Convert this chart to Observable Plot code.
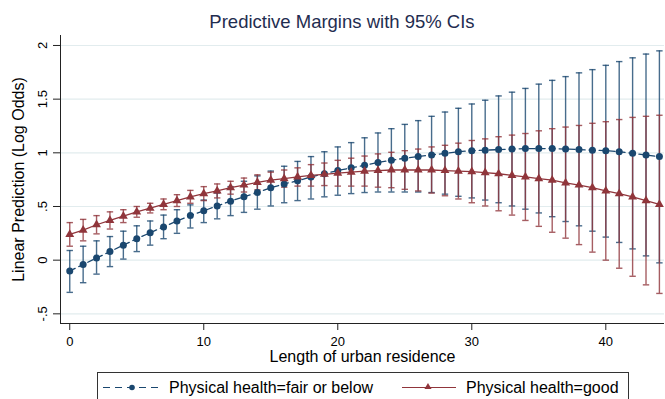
<!DOCTYPE html>
<html><head><meta charset="utf-8">
<script src="https://cdn.jsdelivr.net/npm/d3@7"></script>
<script src="https://cdn.jsdelivr.net/npm/@observablehq/plot@0.6"></script>
<style>
body{margin:0;background:#fff;font-family:"Liberation Sans",Arial,sans-serif;}
#wrap{position:relative;width:665px;height:399px;overflow:hidden;background:#fff;}
#title{position:absolute;left:0;width:684px;top:13px;font-size:18.5px;line-height:18px;text-align:center;color:#1f2d50;white-space:nowrap;}
#chart{position:absolute;left:0;top:35px;}
#legend{position:absolute;left:0;top:362px;}
</style></head><body>
<div id="wrap"><div id="title">Predictive Margins with 95% CIs</div><div id="chart"></div><div id="legend"></div></div>
<script>
const years = [0,1,2,3,4,5,6,7,8,9,10,11,12,13,14,15,16,17,18,19,20,21,22,23,24,25,26,27,28,29,30,31,32,33,34,35,36,37,38,39,40,41,42,43,44];

const fairEst = [-0.10,-0.04,0.02,0.08,0.14,0.20,0.255,0.31,0.365,0.415,0.46,0.505,0.55,0.59,0.63,0.675,0.71,0.74,0.775,0.805,0.835,0.86,0.885,0.91,0.93,0.95,0.965,0.98,0.995,1.01,1.02,1.025,1.03,1.035,1.04,1.04,1.04,1.035,1.03,1.025,1.02,1.01,0.995,0.98,0.965];
const fairLo = [-0.30,-0.21,-0.13,-0.06,0.01,0.08,0.14,0.20,0.25,0.30,0.35,0.385,0.415,0.445,0.475,0.505,0.535,0.555,0.57,0.59,0.605,0.62,0.63,0.635,0.635,0.635,0.635,0.63,0.615,0.595,0.58,0.56,0.535,0.505,0.475,0.44,0.405,0.36,0.32,0.27,0.215,0.165,0.105,0.04,-0.025];
const fairHi = [0.09,0.13,0.18,0.22,0.27,0.32,0.365,0.42,0.47,0.515,0.56,0.625,0.685,0.735,0.785,0.83,0.875,0.92,0.965,1.01,1.055,1.095,1.14,1.185,1.225,1.265,1.30,1.34,1.38,1.415,1.455,1.49,1.53,1.565,1.60,1.64,1.675,1.71,1.745,1.775,1.815,1.85,1.885,1.92,1.95];

const goodEst = [0.24,0.28,0.33,0.37,0.41,0.45,0.485,0.52,0.555,0.59,0.62,0.645,0.675,0.70,0.725,0.745,0.76,0.775,0.79,0.80,0.81,0.82,0.83,0.835,0.84,0.84,0.84,0.84,0.835,0.83,0.825,0.815,0.805,0.79,0.775,0.76,0.745,0.72,0.70,0.675,0.645,0.62,0.59,0.555,0.52];
const goodLo = [0.13,0.18,0.245,0.29,0.35,0.40,0.44,0.47,0.50,0.53,0.555,0.58,0.615,0.635,0.655,0.67,0.68,0.69,0.69,0.695,0.69,0.69,0.69,0.68,0.675,0.66,0.645,0.625,0.60,0.57,0.535,0.505,0.46,0.42,0.37,0.315,0.26,0.205,0.145,0.075,0.0,-0.075,-0.15,-0.23,-0.31];
const goodHi = [0.35,0.38,0.415,0.45,0.47,0.50,0.53,0.57,0.61,0.65,0.685,0.71,0.735,0.765,0.795,0.82,0.84,0.86,0.89,0.905,0.93,0.95,0.97,0.99,1.005,1.02,1.035,1.055,1.07,1.09,1.115,1.13,1.15,1.165,1.18,1.205,1.225,1.24,1.255,1.275,1.29,1.31,1.33,1.34,1.35];

const yTicks = [-0.5, 0, 0.5, 1, 1.5, 2];
const yTickLabels = ["-.5", "0", ".5", "1", "1.5", "2"];
const xTicks = [0, 10, 20, 30, 40];
const seriesNames = ["Physical health=fair or below", "Physical health=good"];
const xTitle = "Length of urban residence";
const yTitle = "Linear Prediction (Log Odds)";

const xDomain = [-0.69, 44.38];
const yDomain = [-0.59, 2.093];
const BLUE = "#1a476f", RED = "#90353b", AXIS = "#222";

const fair = years.map((x, i) => ({x, est: fairEst[i], lo: fairLo[i], hi: fairHi[i]}));
const good = years.map((x, i) => ({x, est: goodEst[i], lo: goodLo[i], hi: goodHi[i]}));

const cap = {draw(ctx, size) { const w = Math.sqrt(size / Math.PI); ctx.moveTo(-w, 0); ctx.lineTo(w, 0); }};

function ci(data, color) {
  return [
    Plot.ruleX(data, {x: "x", y1: "lo", y2: "hi", stroke: color, strokeWidth: 1.4, strokeOpacity: 0.8}),
    Plot.dot(data, {x: "x", y: "lo", symbol: cap, r: 3.2, fill: "none", stroke: color, strokeWidth: 1.4, strokeOpacity: 0.8}),
    Plot.dot(data, {x: "x", y: "hi", symbol: cap, r: 3.2, fill: "none", stroke: color, strokeWidth: 1.4, strokeOpacity: 0.8})
  ];
}

const chart = Plot.plot({
  width: 665, height: 327,
  marginLeft: 60, marginRight: 1, marginTop: 0, marginBottom: 39,
  x: {domain: xDomain},
  y: {domain: yDomain},
  style: {fontFamily: "'Liberation Sans', Arial, sans-serif", background: "transparent", color: "#000", overflow: "visible"},
  marks: [
    Plot.ruleY(yTicks, {stroke: "#e2ecee", strokeWidth: 1.2}),
    Plot.ruleX([xDomain[0]], {stroke: AXIS, strokeWidth: 1}),
    Plot.ruleY([yDomain[0]], {stroke: AXIS, strokeWidth: 1}),
    Plot.axisY({ticks: yTicks, tickSize: 7, tickFormat: () => "", stroke: AXIS, label: null}),
    Plot.text(yTicks, {y: d => d, text: (d, i) => yTickLabels[i], frameAnchor: "left", textAnchor: "middle", lineAnchor: "middle", dx: -18, rotate: -90, fontSize: 13, fill: "#000"}),
    Plot.axisX({ticks: xTicks, tickSize: 7, tickPadding: 6, fontSize: 13, stroke: AXIS, label: null}),
    Plot.text([xTitle], {frameAnchor: "bottom", textAnchor: "middle", lineAnchor: "middle", dy: 33, fontSize: 16, fill: "#000"}),
    Plot.text([yTitle], {frameAnchor: "left", textAnchor: "middle", lineAnchor: "middle", dx: -42, rotate: -90, fontSize: 16, fill: "#000"}),
    ...ci(fair, BLUE),
    ...ci(good, RED),
    Plot.line(fair, {x: "x", y: "est", stroke: BLUE, strokeWidth: 1.3, strokeDasharray: "6,4"}),
    Plot.dot(fair, {x: "x", y: "est", r: 3.5, fill: BLUE}),
    Plot.line(good, {x: "x", y: "est", stroke: RED, strokeWidth: 1.3}),
    Plot.dot(good, {x: "x", y: "est", symbol: "triangle", r: 3.3, fill: RED})
  ]
});
document.getElementById("chart").appendChild(chart);

// Legend
const LY = 25.5;
const leg = d3.select("#legend").append("svg").attr("width", 665).attr("height", 37)
  .style("font-family", "'Liberation Sans', Arial, sans-serif");
leg.append("rect").attr("x", 97.5).attr("y", 10.5).attr("width", 531).attr("height", 40)
  .attr("fill", "none").attr("stroke", "#333");
leg.append("line").attr("x1", 103).attr("x2", 160).attr("y1", LY).attr("y2", LY)
  .attr("stroke", BLUE).attr("stroke-width", 1.2).attr("stroke-dasharray", "7,5");
leg.append("circle").attr("cx", 132).attr("cy", LY).attr("r", 2.8).attr("fill", BLUE);
leg.append("text").attr("x", 169).attr("y", LY).attr("dy", "0.35em").attr("font-size", 16).text(seriesNames[0]);
leg.append("line").attr("x1", 402).attr("x2", 456).attr("y1", LY).attr("y2", LY)
  .attr("stroke", RED).attr("stroke-width", 1.2);
leg.append("path").attr("d", d3.symbol(d3.symbolTriangle, 22)()).attr("transform", `translate(428,${LY - 0.5})`).attr("fill", RED);
leg.append("text").attr("x", 466).attr("y", LY).attr("dy", "0.35em").attr("font-size", 16).text(seriesNames[1]);
</script>
</body></html>
